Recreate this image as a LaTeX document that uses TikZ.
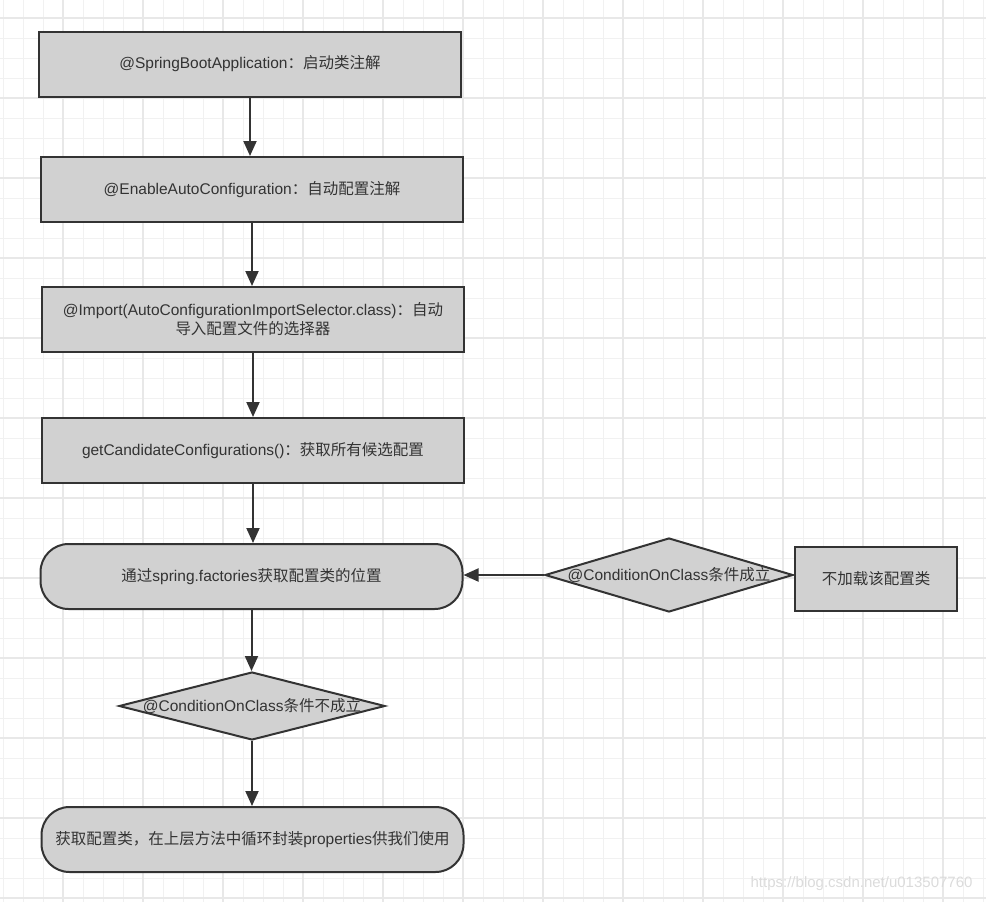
\documentclass[tikz,border=0pt]{standalone}
\usepackage{fontspec}
\setmainfont{Liberation Sans}
\newfontfamily\cjk{Noto Sans CJK SC}
\usetikzlibrary{shapes.geometric,arrows.meta}
\definecolor{boxfill}{HTML}{D1D1D1}
\definecolor{boxline}{HTML}{333333}
\definecolor{gridminor}{HTML}{F1F1F1}
\definecolor{gridmajor}{HTML}{E8E8E8}

\begin{document}
\begin{tikzpicture}[x=1pt,y=-1pt,
  flowbox/.style={draw=boxline, line width=2pt, fill=boxfill, text=boxline,
    minimum width=422pt, minimum height=65pt, inner sep=0pt, align=center,
    font=\fontsize{15.5}{19}\selectfont},
  roundbox/.style={flowbox, rounded corners=28pt},
  cond/.style={diamond, draw=boxline, line width=2pt, fill=boxfill, inner sep=0pt},
  condtext/.style={text=boxline, inner sep=0pt, font=\fontsize{15.5}{19}\selectfont},
  flow/.style={draw=boxline, line width=2pt, -{Triangle[width=13pt,length=15pt]}}]
\useasboundingbox (0,0) rectangle (986,902);
%----------grid--------------------------------
\foreach \gx in {3,23,...,983} \draw[gridminor, line width=1pt] (\gx,0) -- (\gx,902);
\foreach \gy in {18,38,...,898} \draw[gridminor, line width=1pt] (0,\gy) -- (986,\gy);
\foreach \gx in {63,143,...,943} \draw[gridmajor, line width=1.3pt] (\gx,0) -- (\gx,902);
\foreach \gy in {18,98,...,898} \draw[gridmajor, line width=1.3pt] (0,\gy) -- (986,\gy);
%----------main column-------------------------
\node[flowbox] (spring) at (250,64) {@SpringBootApplication{\cjk ：启动类注解}};
\node[flowbox] (enable) at (252,189.5) {@EnableAutoConfiguration{\cjk ：自动配置注解}};
\node[flowbox] (import) at (253,319.5) {@Import(AutoConfigurationImportSelector.class){\cjk ：自动}\\{\cjk 导入配置文件的选择器}};
\node[flowbox] (candidate) at (253,450.5) {getCandidateConfigurations(){\cjk ：获取所有候选配置}};
\node[roundbox] (factories) at (251.5,576.5) {{\cjk 通过}spring.factories{\cjk 获取配置类的位置}};
\node[cond, minimum width=266pt, minimum height=68pt,
  label={[condtext]center:@ConditionOnClass{\cjk 条件不成立}}] (notok) at (252,706) {};
\node[roundbox] (result) at (252.5,839.5) {{\cjk 获取配置类，在上层方法中循环封装}properties{\cjk 供我们使用}};
%----------side branch-------------------------
\node[cond, minimum width=248pt, minimum height=74pt,
  label={[condtext]center:@ConditionOnClass{\cjk 条件成立}}] (ok) at (669,575) {};
\node[flowbox, minimum width=162pt, minimum height=64pt] (skip) at (876,579) {{\cjk 不加载该配置类}};
%----------arrows------------------------------
\draw[flow] (spring.south) -- (spring.south |- enable.north);
\draw[flow] (enable.south) -- (enable.south |- import.north);
\draw[flow] (import.south) -- (import.south |- candidate.north);
\draw[flow] (candidate.south) -- (candidate.south |- factories.north);
\draw[flow] (factories.south) -- (factories.south |- notok.north);
\draw[flow] (notok.south) -- (notok.south |- result.north);
\draw[flow] (ok.west) -- (ok.west -| factories.east);
%----------watermark---------------------------
\node[text=black!14, font=\fontsize{15}{18}\selectfont, anchor=east] (mark) at (976,884) {https://blog.csdn.net/u013507760};
\end{tikzpicture}
\end{document}
